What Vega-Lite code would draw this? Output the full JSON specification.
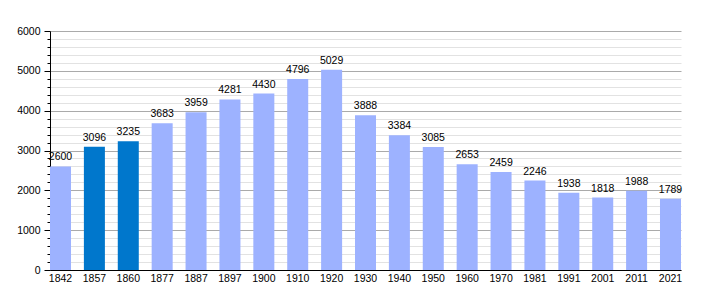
{
  "$schema": "https://vega.github.io/schema/vega-lite/v6.json",
  "width": 631,
  "height": 239,
  "autosize": {"type": "none"},
  "padding": {"top": 31, "left": 50, "right": 29, "bottom": 30},
  "background": "white",
  "config": {
    "view": {"stroke": null},
    "font": "Liberation Sans"
  },
  "data": {
    "values": [
      {"year": "1842", "population": 2600},
      {"year": "1857", "population": 3096},
      {"year": "1860", "population": 3235},
      {"year": "1877", "population": 3683},
      {"year": "1887", "population": 3959},
      {"year": "1897", "population": 4281},
      {"year": "1900", "population": 4430},
      {"year": "1910", "population": 4796},
      {"year": "1920", "population": 5029},
      {"year": "1930", "population": 3888},
      {"year": "1940", "population": 3384},
      {"year": "1950", "population": 3085},
      {"year": "1960", "population": 2653},
      {"year": "1970", "population": 2459},
      {"year": "1981", "population": 2246},
      {"year": "1991", "population": 1938},
      {"year": "2001", "population": 1818},
      {"year": "2011", "population": 1988},
      {"year": "2021", "population": 1789}
    ]
  },
  "encoding": {
    "x": {
      "field": "year",
      "type": "ordinal",
      "sort": null,
      "scale": {"paddingInner": 0.38, "paddingOuter": 0},
      "axis": {
        "title": null,
        "labelAngle": 0,
        "ticks": false,
        "labelPadding": 3,
        "labelFontSize": 10.5,
        "labelColor": "#000",
        "domainColor": "#000",
        "domainWidth": 1,
        "grid": false
      }
    },
    "y": {
      "field": "population",
      "type": "quantitative",
      "scale": {"domain": [0, 6000], "nice": false},
      "axis": {
        "title": null,
        "values": [0,200,400,600,800,1000,1200,1400,1600,1800,2000,2200,2400,2600,2800,3000,3200,3400,3600,3800,4000,4200,4400,4600,4800,5000,5200,5400,5600,5800,6000],
        "labelExpr": "datum.value % 1000 === 0 ? datum.value : ''",
        "labelFontSize": 10.5,
        "labelColor": "#000",
        "labelPadding": 4,
        "domainColor": "#000",
        "tickColor": "#000",
        "tickSize": {"condition": {"test": "datum.value % 1000 === 0", "value": 6}, "value": 3},
        "grid": true,
        "gridColor": {"condition": {"test": "datum.value % 1000 === 0", "value": "#aaaaaa"}, "value": "#e2e2e2"},
        "gridWidth": 1
      }
    }
  },
  "layer": [
    {
      "mark": {"type": "bar"},
      "encoding": {
        "color": {
          "condition": {"test": "datum.year === '1857' || datum.year === '1860'", "value": "#0077cc"},
          "value": "#9db2ff"
        }
      }
    },
    {
      "mark": {"type": "text", "baseline": "bottom", "dy": -4, "fontSize": 10.5, "color": "#000"},
      "encoding": {
        "text": {"field": "population", "type": "quantitative", "format": "d"}
      }
    }
  ]
}
